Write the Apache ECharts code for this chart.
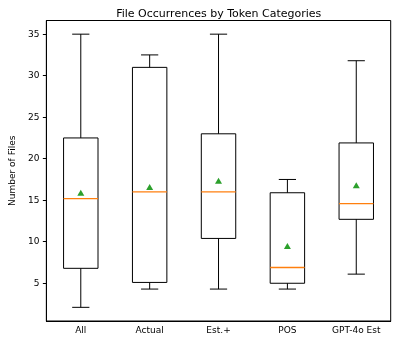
<!DOCTYPE html>
<html>
<head>
<meta charset="utf-8">
<script src="https://cdn.jsdelivr.net/npm/echarts@6/dist/echarts.min.js"></script>
<style>
    html, body { margin: 0; padding: 0; background: #fff; }
    #chart { width: 397px; height: 343px; }
</style>
</head>
<body>
<div id="chart"></div>
<script>
// categories and box statistics
var categories = ['All', 'Actual', 'Est.+', 'POS', 'GPT-4o Est'];
var whiskerLow = [2.1, 4.3, 4.3, 4.3, 6.1];
var q1 = [6.8, 5.1, 10.4, 5.0, 12.7];
var medians = [15.2, 16.0, 16.0, 6.9, 14.6];
var q3 = [22.5, 31.0, 23.0, 15.9, 21.9];
var whiskerHigh = [35.0, 32.5, 35.0, 17.5, 31.8];
var means = [15.9, 16.6, 17.35, 9.5, 16.8];
var yTicks = [5, 10, 15, 20, 25, 30, 35];

var fontFamily = 'DejaVu Sans';

var boxData = [];
var meanData = [];
for (var i = 0; i < categories.length; ++i) {
    boxData.push([i, whiskerLow[i], q1[i], medians[i], q3[i], whiskerHigh[i]]);
    meanData.push([i, means[i]]);
}

// box, whiskers and caps drawn through the axis scales
function renderBox(params, api) {
    var x = api.value(0);
    var band = api.size([1, 0])[0];
    var half = band * 0.25;
    var cap = band * 0.125;
    var pLow = api.coord([x, api.value(1)]);
    var pQ1 = api.coord([x, api.value(2)]);
    var pMed = api.coord([x, api.value(3)]);
    var pQ3 = api.coord([x, api.value(4)]);
    var pHigh = api.coord([x, api.value(5)]);
    var cx = pQ1[0];
    var line = {stroke: '#000', lineWidth: 1, fill: null};
    return {
        type: 'group',
        children: [
            {type: 'line', shape: {x1: cx, y1: pQ1[1], x2: cx, y2: pLow[1]}, style: line},
            {type: 'line', shape: {x1: cx, y1: pQ3[1], x2: cx, y2: pHigh[1]}, style: line},
            {type: 'line', shape: {x1: cx - cap, y1: pLow[1], x2: cx + cap, y2: pLow[1]}, style: line},
            {type: 'line', shape: {x1: cx - cap, y1: pHigh[1], x2: cx + cap, y2: pHigh[1]}, style: line},
            {type: 'rect', shape: {x: cx - half, y: pQ3[1], width: half * 2, height: pQ1[1] - pQ3[1]},
                style: {stroke: '#000', lineWidth: 1, fill: 'none'}},
            {type: 'line', shape: {x1: cx - half, y1: pMed[1], x2: cx + half, y2: pMed[1]},
                style: {stroke: '#ff7f0e', lineWidth: 1.3}}
        ]
    };
}

var chart = echarts.init(document.getElementById('chart'));

var option = {
    animation: false,
    backgroundColor: '#fff',
    title: {
        text: 'File Occurrences by Token Categories',
        left: 213.7,
        textAlign: 'center',
        top: 4,
        textStyle: {fontFamily: fontFamily, fontSize: 11, fontWeight: 'normal', color: '#000'}
    },
    grid: {
        left: 36.7,
        right: 6.3,
        top: 20.5,
        bottom: 22,
        show: true,
        borderColor: '#000',
        borderWidth: 1,
        backgroundColor: 'transparent'
    },
    xAxis: {
        type: 'category',
        data: categories,
        boundaryGap: true,
        axisLine: {lineStyle: {color: '#000', width: 1}},
        axisTick: {alignWithLabel: true, length: 3.5, lineStyle: {color: '#000'}},
        axisLabel: {fontFamily: fontFamily, fontSize: 9, color: '#000', margin: 5},
        splitLine: {show: false}
    },
    yAxis: {
        type: 'value',
        min: 0.455,
        max: 36.645,
        name: 'Number of Files',
        nameLocation: 'middle',
        nameGap: 27,
        nameTextStyle: {fontFamily: fontFamily, fontSize: 9, color: '#000'},
        axisLine: {show: true, lineStyle: {color: '#000', width: 1}},
        axisTick: {show: true, length: 3.5, customValues: yTicks, lineStyle: {color: '#000'}},
        axisLabel: {fontFamily: fontFamily, fontSize: 9, color: '#000', margin: 7, customValues: yTicks},
        splitLine: {show: false}
    },
    series: [
        {
            type: 'custom',
            renderItem: renderBox,
            data: boxData,
            encode: {x: 0, y: [1, 2, 3, 4, 5]},
            z: 2
        },
        {
            type: 'scatter',
            data: meanData,
            symbol: 'triangle',
            symbolSize: [7, 6],
            itemStyle: {color: '#2ca02c', opacity: 1},
            z: 3
        }
    ]
};

chart.setOption(option);
</script>
</body>
</html>
